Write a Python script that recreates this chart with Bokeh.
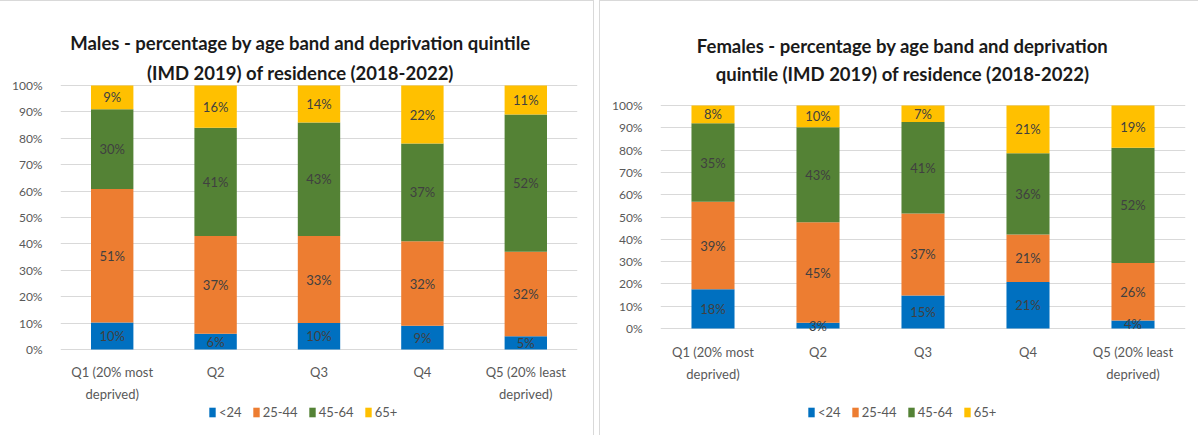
from bokeh.plotting import figure
from bokeh.models import (ColumnDataSource, LabelSet, Label, Legend, LegendItem,
                          FactorRange, Range1d, FixedTicker, PrintfTickFormatter)
from bokeh.layouts import row
from bokeh.embed import file_html
from bokeh.resources import INLINE
from bokeh.core.properties import value
import numpy as np

# ---------------- data ----------------
quintiles = ["Q1 (20% most\ndeprived)", "Q2", "Q3", "Q4", "Q5 (20% least\ndeprived)"]
age_bands = ["<24", "25-44", "45-64", "65+"]
band_colors = ["#0070C0", "#ED7D31", "#548235", "#FFC000"]

male_u24 = [10.2, 6, 10, 9, 5]
male_25_44 = [50.6, 37, 33, 32, 32]
male_45_64 = [30.2, 41, 43, 37, 52]
male_65p = [9.0, 16, 14, 22, 11]

female_u24 = [17.6, 2.6, 14.8, 20.8, 3.6]
female_25_44 = [39.2, 45.0, 36.8, 21.4, 25.8]
female_45_64 = [35.2, 42.6, 41.0, 36.4, 51.7]
female_65p = [8.0, 9.8, 7.4, 21.4, 18.9]

male_title = ["Males - percentage by age band and deprivation quintile",
              "(IMD 2019) of residence (2018-2022)"]
female_title = ["Females - percentage by age band and deprivation",
                "quintile (IMD 2019) of residence (2018-2022)"]

y_ticks = list(range(0, 101, 10))

FONT = "Lato"
TXT = "#404040"
FIG_H = 435


def make_chart(series, title_lines, width, lr, px100, px0, title_cx, title_base,
               cat_mid, legend_loc, styles):
    scale = (px0 - px100) / 100.0

    def yd(px):
        return (px0 - px) / scale

    p = figure(x_range=FactorRange(*quintiles),
               y_range=Range1d(yd(FIG_H), yd(0)),
               width=width, height=FIG_H, output_backend="svg",
               toolbar_location=None, tools="",
               min_border_left=lr[0], min_border_right=lr[1],
               min_border_top=0, min_border_bottom=0)
    p.styles = styles
    p.outline_line_color = None
    p.background_fill_color = "white"
    p.border_fill_color = "white"
    p.xaxis.visible = False

    data = {"q": quintiles}
    for band, vals in zip(age_bands, series):
        data[band] = vals
    src = ColumnDataSource(data)
    rends = p.vbar_stack(age_bands, x="q", width=0.41, color=band_colors,
                         line_color=None, source=src)

    # data labels
    bottom_acc = np.zeros(len(quintiles))
    for band, vals in zip(age_bands, series):
        v = np.array(vals, dtype=float)
        mid = bottom_acc + v / 2.0
        bottom_acc = bottom_acc + v
        lsrc = ColumnDataSource({"q": quintiles, "y": mid,
                                 "t": ["%.0f%%" % x for x in v]})
        p.add_layout(LabelSet(x="q", y="y", text="t", source=lsrc,
                              text_align="center", text_baseline="middle",
                              text_font=value(FONT), text_font_size="13px",
                              text_color=TXT))

    # category labels (two lines)
    first = [c.split("\n")[0] for c in quintiles]
    second = [c.split("\n")[1] if "\n" in c else "" for c in quintiles]
    for lines, py in ((first, cat_mid[0]), (second, cat_mid[1])):
        csrc = ColumnDataSource({"q": quintiles, "y": [yd(py)] * len(quintiles),
                                 "t": lines})
        p.add_layout(LabelSet(x="q", y="y", text="t", source=csrc,
                              text_align="center", text_baseline="middle",
                              text_font=value(FONT), text_font_size="13px",
                              text_color="#595959"))

    # y axis
    p.yaxis.ticker = FixedTicker(ticks=y_ticks)
    p.yaxis.formatter = PrintfTickFormatter(format="%d%%")
    ax = p.yaxis[0]
    ax.axis_line_color = None
    ax.major_tick_line_color = None
    ax.minor_tick_line_color = None
    ax.major_label_text_font = FONT
    ax.major_label_text_color = "#595959"
    ax.major_label_text_font_size = "12px"
    ax.major_label_standoff = 12
    p.xgrid.grid_line_color = None
    p.ygrid.grid_line_color = "#D9D9D9"
    p.ygrid.ticker = FixedTicker(ticks=y_ticks)

    # title lines
    for line, py in zip(title_lines, title_base):
        p.add_layout(Label(x=title_cx, y=yd(py), text=line, text_align="center",
                           text_baseline="alphabetic", text_font=FONT,
                           text_font_style="bold", text_font_size="18.5px",
                           text_color="#1a1a1a"))

    items = [LegendItem(label=b, renderers=[r]) for b, r in zip(age_bands, rends)]
    leg = Legend(items=items, orientation="horizontal", location=legend_loc,
                 padding=0, margin=0, spacing=10, label_standoff=3,
                 glyph_width=8, glyph_height=12,
                 label_text_font=FONT, label_text_font_size="13px",
                 label_text_color="#595959", border_line_color=None,
                 background_fill_alpha=0, label_height=12)
    p.add_layout(leg)
    return p


p1 = make_chart([male_u24, male_25_44, male_45_64, male_65p], male_title,
                width=594, lr=(60, 17), px100=84, px0=348,
                title_cx=2.32, title_base=(41, 71), cat_mid=(370, 392),
                legend_loc=(148, 16),
                styles={"border-right": "1px solid #D9D9D9",
                        "border-top": "1px solid #D9D9D9"})
p2 = make_chart([female_u24, female_25_44, female_45_64, female_65p], female_title,
                width=599, lr=(60, 14), px100=104, px0=327,
                title_cx=2.305, title_base=(44.5, 72.5), cat_mid=(350, 372),
                legend_loc=(147, 16),
                styles={"border-left": "1px solid #D9D9D9",
                        "border-top": "1px solid #D9D9D9"})

layout = row(p1, p2, spacing=5)
open("out.html", "w").write(file_html(layout, INLINE))
